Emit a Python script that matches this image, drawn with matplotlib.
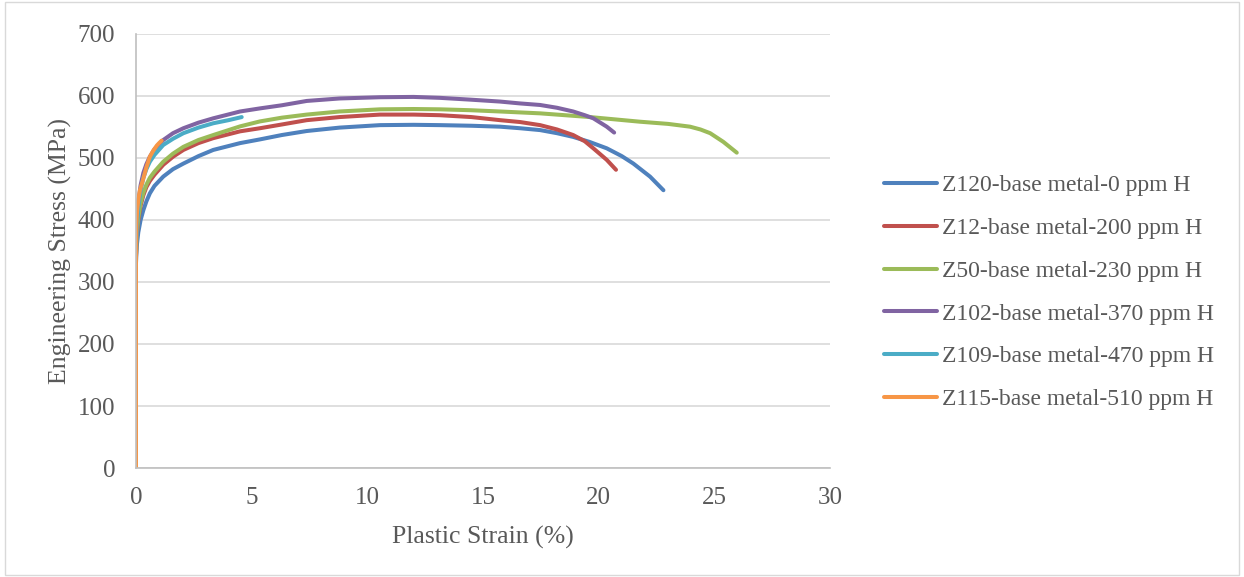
import matplotlib.pyplot as plt
from matplotlib.patches import Rectangle

plt.rcParams['font.family'] = ['Liberation Serif', 'DejaVu Serif']

# Plastic strain (%) and engineering stress (MPa)
labels = ['Z120-base metal-0 ppm H', 'Z12-base metal-200 ppm H', 'Z50-base metal-230 ppm H',
          'Z102-base metal-370 ppm H', 'Z109-base metal-470 ppm H', 'Z115-base metal-510 ppm H']
colors = ['#4F81BD', '#C0504D', '#9BBB59', '#8064A2', '#4BACC6', '#F79646']

z120_x = [0, 0, 0.03, 0.1, 0.2, 0.32, 0.45, 0.6, 0.8, 1.18, 1.6, 2.05, 2.7, 3.34, 4.5, 5.36, 6.3, 7.38,
          8.8, 10.55, 12, 13.14, 14.5, 15.74, 16.6, 17.47, 18.2, 18.9, 19.6, 20.35, 21.0, 21.5, 22.22, 22.8]
z120_y = [0, 330, 357, 380, 400, 416, 430, 443, 455, 470, 482, 491, 503, 513, 524, 530, 537, 543.5,
          549, 553, 553.5, 553, 552, 550.5, 548, 545, 540, 534, 526, 515.6, 503, 491, 470, 448]

z12_x = [0, 0, 0.03, 0.1, 0.2, 0.32, 0.45, 0.6, 0.8, 1.18, 1.6, 2.05, 2.7, 3.34, 4.5, 5.36, 6.3, 7.38,
         8.8, 10.55, 12, 13.14, 14.5, 15.74, 16.6, 17.47, 18.2, 18.9, 19.4, 19.77, 20.35, 20.75]
z12_y = [0, 340, 372, 400, 423, 440, 453, 463, 473, 489, 502, 513, 524, 532, 543, 548, 554, 561,
         566, 570, 570, 569, 566, 561, 558, 553, 546, 537, 527, 515.6, 497, 481]

z50_x = [0, 0, 0.03, 0.1, 0.2, 0.32, 0.45, 0.6, 0.8, 1.18, 1.6, 2.05, 2.7, 3.34, 4.5, 5.36, 6.3, 7.38,
         8.8, 10.55, 12, 13.14, 14.5, 15.74, 17.47, 19.63, 21.79, 23.0, 23.95, 24.4, 24.82, 25.39, 25.97]
z50_y = [0, 340, 375, 403, 427, 444, 457, 468, 478, 494, 507, 518, 529, 537, 551, 559, 565, 570,
         575, 578.5, 579, 578.5, 577, 575, 572, 566, 558.5, 555, 550.5, 546, 540, 526, 508.6]

z102_x = [0, 0, 0.03, 0.1, 0.2, 0.32, 0.45, 0.6, 0.8, 1.18, 1.6, 2.05, 2.7, 3.34, 4.5, 5.36, 6.3, 7.38,
          8.8, 10.55, 12, 13.14, 14.5, 15.74, 16.6, 17.47, 18.2, 18.9, 19.4, 19.77, 20.35, 20.67]
z102_y = [0, 345, 392, 428, 456, 476, 490, 502, 514, 529, 540, 548, 557, 564, 575, 580, 585, 592,
          596, 598, 598.5, 597, 594, 591, 588, 585.5, 581, 575, 569, 564, 550.5, 541]

z109_x = [0, 0, 0.03, 0.1, 0.2, 0.32, 0.45, 0.6, 0.8, 1.18, 1.6, 2.05, 2.7, 3.34, 4.0, 4.57]
z109_y = [0, 345, 385, 420, 448, 468, 482, 494, 505, 521, 531, 540, 549, 556, 561, 566]

z115_x = [0, 0, 0.02, 0.05, 0.1, 0.17, 0.25, 0.32, 0.45, 0.6, 0.75, 0.9, 1.0, 1.11]
z115_y = [0, 360, 395, 415, 432, 448, 458, 467, 485, 502, 512, 520, 524, 528]

series = [(z120_x, z120_y), (z12_x, z12_y), (z50_x, z50_y),
          (z102_x, z102_y), (z109_x, z109_y), (z115_x, z115_y)]

fig = plt.figure(figsize=(12.44, 5.77), dpi=100)
ax = fig.add_axes([0.1093, 0.1889, 0.5579, 0.7522])

for (xs, ys), lab, c in zip(series, labels, colors):
    ax.plot(xs, ys, color=c, lw=2.9, label=lab, solid_capstyle='round', solid_joinstyle='round')

ax.set_xlim(0, 30)
ax.set_ylim(0, 700)
ax.set_xticks(range(0, 31, 5))
ax.set_yticks(range(0, 701, 100))
ax.yaxis.grid(True, color='#D9D9D9', lw=1.2)
ax.set_axisbelow(True)
for s in ['top', 'right']:
    ax.spines[s].set_visible(False)
for s in ['left', 'bottom']:
    ax.spines[s].set_color('#BFBFBF')
    ax.spines[s].set_linewidth(1.2)
ax.tick_params(length=0, labelsize=18, colors='#595959')
ax.tick_params(axis='y', pad=15)
ax.tick_params(axis='x', pad=13.5)
ax.set_xlabel('Plastic Strain (%)', fontsize=18.5, color='#595959', labelpad=12)
ax.set_ylabel('Engineering Stress (MPa)', fontsize=18.5, color='#595959', labelpad=4)

leg = fig.legend(handles=ax.get_lines(), loc='center left', bbox_to_anchor=(0.7106, 0.493),
                 frameon=False, fontsize=17, labelcolor='#595959', handlelength=2.25,
                 handletextpad=0.2, labelspacing=0.9, borderpad=0, borderaxespad=0)

# chart-area border
fig.patches.append(Rectangle((0.004, 0.004), 0.992, 0.992, transform=fig.transFigure,
                             fill=False, edgecolor='#D9D9D9', lw=1))

fig.savefig('out.png', dpi=100)
